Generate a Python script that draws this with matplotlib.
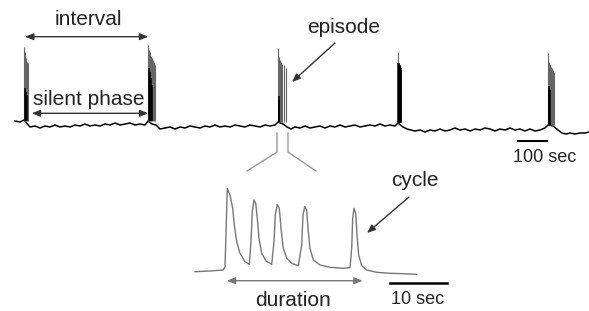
import matplotlib
matplotlib.use("Agg")
import matplotlib.pyplot as plt
import numpy as np

plt.rcParams['font.family'] = ['Liberation Sans', 'DejaVu Sans']

# ---- top trace (long recording), baseline samples (x, y in picture units) ----
base_x = [15, 20, 24, 30, 35, 40, 45, 50, 55, 60, 65, 70, 75, 80, 85, 90, 95, 100,
          105, 110, 115, 120, 125, 130, 135, 140, 145, 148, 152, 156, 160, 165, 170,
          175, 180, 185, 190, 195, 200, 205, 210, 215, 220, 225, 230, 235, 240, 245,
          250, 255, 260, 265, 270, 275, 278, 283, 287, 291, 295, 300, 305, 310, 315,
          320, 325, 330, 335, 340, 345, 350, 355, 360, 365, 370, 375, 380, 385, 390,
          395, 398, 403, 407, 411, 415, 420, 425, 430, 435, 440, 445, 450, 455, 460,
          465, 470, 475, 480, 485, 490, 495, 500, 505, 510, 515, 520, 525, 530, 535,
          540, 545, 548, 553, 558, 562, 566, 570, 575, 580, 585, 589]
base_y = [121, 122, 120, 127, 126, 128, 126, 127, 125, 127, 126, 127, 125, 126, 124,
          126, 125, 126, 124, 125, 123, 125, 124, 123, 125, 124, 125, 121, 124, 125,
          129, 128, 127, 129, 127, 128, 126, 127, 128, 126, 127, 125, 127, 126, 127,
          125, 126, 127, 125, 126, 127, 125, 126, 125, 122, 124, 127, 129, 127, 128,
          126, 128, 127, 126, 128, 126, 127, 125, 127, 126, 125, 127, 126, 125, 126,
          124, 126, 125, 126, 123, 127, 129, 130, 131, 130, 132, 130, 131, 129, 131,
          130, 128, 130, 129, 131, 129, 130, 128, 129, 131, 129, 130, 128, 130, 129,
          131, 129, 131, 130, 128, 125, 126, 130, 133, 134, 133, 134, 133, 133, 132]

# ---- episodes: start x, base y, spike offsets and spike tops ----
ep_start = [24, 148, 278, 398, 548]
ep_base = [121, 121, 122, 123, 125]
ep_grey_dx = [[0, 1, 2, 3, 4],
              [0, 1, 2, 3, 4, 5, 6, 7],
              [0, 1, 2, 3, 4, 6, 8],
              [0],
              [0, 1, 2, 3, 4, 5, 6]]
ep_grey_top = [[47, 52, 58, 62, 63],
               [45, 50, 52, 56, 58, 60, 62, 65],
               [48, 57, 60, 62, 64, 65, 68],
               [52],
               [53, 62, 64, 67, 68, 70, 72]]
ep_black_dx = [[0.5, 1.5, 2.5],
               [1, 2, 3, 4],
               [0.5, 1.2],
               [0.3, 0.8, 1.3, 1.8, 2.3, 2.8, 3.3],
               [0.5, 1.2, 2.0]]
ep_black_top = [[88, 92, 95],
                [68, 72, 78, 85],
                [96, 100],
                [63, 63, 64, 65, 66, 68, 70],
                [86, 88, 90]]

# ---- zoomed episode trace ----
zoom_x = [195, 210, 223.3, 225, 227.3, 230, 232.7, 234.3, 236.7, 240, 245, 249.3,
          251, 252.3, 254, 255.7, 257.3, 259, 261.7, 266, 271.7, 274, 275.3, 277.3,
          279.3, 281, 283.3, 286.7, 291.7, 298.3, 301.7, 303, 304.7, 306.7, 308, 310,
          313.3, 320, 330, 343.3, 350, 351.7, 352.7, 354, 355.7, 357, 358.7, 361.7,
          366.7, 376.7, 390, 403.3, 416.7]
zoom_y = [271.7, 271, 270, 266.7, 188.3, 195, 208.3, 225, 241.7, 253.3, 261.7, 264.3,
          241.7, 211.7, 200, 203.3, 218.3, 238.3, 253.3, 261, 264.3, 241.7, 215, 204.3,
          208.3, 228.3, 248.3, 258.3, 263.3, 265.7, 245, 215, 206.7, 210, 228.3, 248.3,
          260, 265, 267.3, 268.3, 267.7, 248.3, 218.3, 208.3, 213.3, 235, 255, 265.7,
          270, 272.3, 273.3, 273.7, 274.3]

fig = plt.figure(figsize=(5.89, 3.11), dpi=100)
ax = fig.add_axes([0, 0, 1, 1])
ax.set_xlim(0, 589)
ax.set_ylim(311, 0)
ax.axis('off')

# top trace
ax.plot(base_x, base_y, color='black', lw=1.1, solid_joinstyle='round')
for s, b, gdx, gt, bdx, bt in zip(ep_start, ep_base, ep_grey_dx, ep_grey_top,
                                   ep_black_dx, ep_black_top):
    ax.vlines([s + d for d in gdx], b, gt, color='#666666', lw=0.8)
    ax.vlines([s + d for d in bdx], b, bt, color='black', lw=1.1)

# zoom bracket
ax.plot([277, 277, 247], [133, 152, 171], color='#999999', lw=1.0)
ax.plot([288, 288, 316], [133, 152, 171], color='#999999', lw=1.0)

# zoomed trace
ax.plot(zoom_x, zoom_y, color='#777777', lw=1.0)

arrow_kw = dict(arrowstyle='<|-|>,head_length=0.5,head_width=0.2', lw=1.0,
                shrinkA=0, shrinkB=0, mutation_scale=10)
ax.annotate('', xy=(25, 36.7), xytext=(148.3, 36.7), arrowprops=dict(color='#333333', **arrow_kw))
ax.annotate('', xy=(31.7, 113.3), xytext=(148.3, 113.3), arrowprops=dict(color='#333333', **arrow_kw))
ax.annotate('', xy=(226.7, 280.7), xytext=(362.7, 280.7), arrowprops=dict(color='#777777', **arrow_kw))

pointer_kw = dict(arrowstyle='-|>,head_length=0.5,head_width=0.2', lw=1.0,
                  shrinkA=0, shrinkB=0, mutation_scale=10, color='#333333')
ax.annotate('', xy=(292, 82), xytext=(335, 43), arrowprops=pointer_kw)
ax.annotate('', xy=(367, 233), xytext=(409, 197), arrowprops=pointer_kw)

# scale bars
ax.plot([518, 547], [141, 141], color='black', lw=1.5)
ax.plot([390, 446.7], [283.3, 283.3], color='black', lw=1.8)

big = 15
small = 13
ax.text(88.3, 25, 'interval', ha='center', va='baseline', fontsize=big, color='#222222')
ax.text(88.8, 105, 'silent phase', ha='center', va='baseline', fontsize=big, color='#222222')
ax.text(344, 33.3, 'episode', ha='center', va='baseline', fontsize=big, color='#222222')
ax.text(545, 162.5, '100 sec', ha='center', va='baseline', fontsize=small, color='#222222')
ax.text(414.5, 186, 'cycle', ha='center', va='baseline', fontsize=big, color='#222222')
ax.text(293.3, 306.5, 'duration', ha='center', va='baseline', fontsize=big, color='#222222')
ax.text(418, 303.5, '10 sec', ha='center', va='baseline', fontsize=small, color='#222222')

fig.savefig('out.png', dpi=100)
